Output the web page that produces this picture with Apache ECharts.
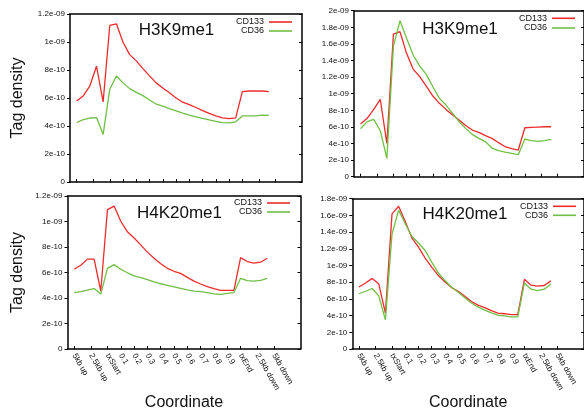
<!DOCTYPE html>
<html><head><meta charset="utf-8">
<script src="https://cdn.jsdelivr.net/npm/echarts@6/dist/echarts.min.js"></script>
<style>html,body{margin:0;padding:0;background:#fff}#c{width:584px;height:412px}</style>
</head><body><div id="c"></div>
<script>
// Bin index along the meta-gene (5 upstream bins, 20 gene-body bins, 5 downstream bins)
const BINS = [0,1,2,3,4,5,6,7,8,9,10,11,12,13,14,15,16,17,18,19,20,21,22,23,24,25,26,27,28,29];
// Tick positions (in bin units) and their labels
const TICK_VALUES = [0, 2.5, 5, 7, 9, 11, 13, 15, 17, 19, 21, 23, 25, 27.5, 30];
const TICK_LABELS = ['5kb up','2.5kb up','txStart','0.1','0.2','0.3','0.4','0.5','0.6','0.7','0.8','0.9','txEnd','2.5kb down','5kb down'];
// Values in units of 1e-10 tag density
const UNIT = 1e-10;
const H3K9_LEFT_CD133 = [5.79,6.15,6.87,8.27,5.72,11.18,11.3,9.98,9.1,8.65,8.1,7.58,7.08,6.72,6.37,6.0,5.7,5.52,5.32,5.1,4.9,4.72,4.58,4.53,4.58,6.45,6.5,6.5,6.5,6.45];
const H3K9_LEFT_CD36  = [4.25,4.45,4.57,4.6,3.4,6.62,7.57,7.08,6.67,6.4,6.17,5.86,5.57,5.42,5.24,5.08,4.92,4.78,4.66,4.54,4.43,4.33,4.24,4.22,4.3,4.72,4.72,4.73,4.77,4.76];
const H3K9_RIGHT_CD133 = [6.35,7.03,8.11,9.32,4.0,17.19,17.47,14.86,12.97,12.05,10.92,9.72,8.84,8.11,7.43,6.83,6.18,5.62,5.34,4.94,4.62,4.1,3.61,3.37,3.21,5.9,5.94,5.98,6.02,6.02];
const H3K9_RIGHT_CD36  = [5.78,6.63,6.91,5.54,2.21,15.74,18.8,16.67,14.66,13.33,12.33,10.84,9.44,8.63,7.63,6.63,5.82,5.1,4.62,4.22,3.45,3.15,2.95,2.8,2.65,4.54,4.34,4.26,4.34,4.5];
const H4K20_LEFT_CD133 = [6.26,6.57,7.05,7.05,4.55,10.93,11.21,10.02,9.19,8.71,8.17,7.6,7.12,6.69,6.33,6.1,5.93,5.62,5.33,5.1,4.9,4.74,4.6,4.6,4.6,7.17,6.86,6.74,6.81,7.12];
const H4K20_LEFT_CD36  = [4.43,4.5,4.62,4.74,4.31,6.33,6.62,6.26,5.98,5.74,5.6,5.45,5.26,5.12,5.0,4.88,4.76,4.64,4.55,4.5,4.43,4.33,4.29,4.36,4.43,5.55,5.36,5.33,5.38,5.55];
const H4K20_RIGHT_CD133 = [7.43,7.91,8.46,7.8,4.3,16.18,17.1,15.26,13.31,12.2,10.9,9.8,8.8,8.02,7.36,6.92,6.33,5.7,5.26,4.97,4.6,4.31,4.23,4.12,4.12,8.35,7.65,7.54,7.61,8.16];
const H4K20_RIGHT_CD36  = [6.62,6.92,7.25,6.36,3.49,13.79,16.62,15.0,13.5,12.7,11.8,10.4,9.1,8.2,7.4,6.8,6.14,5.52,5.04,4.67,4.34,4.05,3.98,3.86,3.86,7.91,7.17,6.99,7.17,7.8];
const TITLES = ['H3K9me1','H3K9me1','H4K20me1','H4K20me1'];
const SERIES_NAMES = ['CD133','CD36'];
const Y_MAX = [12, 20, 12, 18];
const Y_STEP = 2;

const PANEL_DATA = [
  [H3K9_LEFT_CD133, H3K9_LEFT_CD36],
  [H3K9_RIGHT_CD133, H3K9_RIGHT_CD36],
  [H4K20_LEFT_CD133, H4K20_LEFT_CD36],
  [H4K20_RIGHT_CD133, H4K20_RIGHT_CD36]
];

const FONT = '"Liberation Sans", Arial, Helvetica, sans-serif';
const COLORS = ['#ee2b2b', '#6fbf45'];
const GRIDS = [
  {left:70, top:14, width:232, height:168},
  {left:354, top:10.7, width:232, height:166},
  {left:67.5, top:196, width:233, height:167.7},
  {left:352.3, top:198.7, width:234, height:163}
];
const TITLE_POS = [[176.5,31],[460,29.5],[179.5,213.5],[465,215]];
const LEGEND_POS = [
  {right:292, y:[23,32]},
  {right:9, y:[19.3,29]},
  {right:294, y:[204,213]},
  {right:8, y:[207.3,216.3]}
];

function sci(v){
  if (Math.abs(v) < 1e-9) return '0';
  const x = v * UNIT;
  const parts = x.toExponential().split('e');
  const m = String(Number(Number(parts[0]).toFixed(2)));
  const n = parseInt(parts[1], 10);
  return m + 'e' + (n < 0 ? '-' : '+') + String(Math.abs(n)).padStart(2, '0');
}
function xLabel(v){
  for (let k = 0; k < TICK_VALUES.length; k++) {
    if (Math.abs(TICK_VALUES[k] - v) < 1e-6) return TICK_LABELS[k];
  }
  return '';
}

const axisLine = {show:true, onZero:false, lineStyle:{color:'#000', width:1.5}};
const option = {
  animation:false,
  backgroundColor:'#fff',
  grid: GRIDS.map(g => Object.assign({containLabel:false}, g)),
  title: [], legend: [], xAxis: [], yAxis: [], series: []
};

for (let p = 0; p < 4; p++) {
  const isBottom = p >= 2, isLeft = (p % 2 === 0);
  option.title.push({
    text: TITLES[p], left: TITLE_POS[p][0], top: TITLE_POS[p][1] - 9, textAlign:'center', padding:0,
    textStyle:{fontSize:17, fontWeight:'normal', color:'#111', fontFamily:FONT}
  });
  for (let s = 0; s < 2; s++) {
    option.legend.push({
      data:[SERIES_NAMES[s]], right: LEGEND_POS[p].right, top: LEGEND_POS[p].y[s] - 5.5,
      orient:'vertical', align:'right', icon:'rect', itemWidth:23, itemHeight:1.6, padding:0,
      selectedMode:false, textStyle:{fontSize:9, color:'#111', fontFamily:FONT}
    });
  }
  option.xAxis.push({
    type:'value', gridIndex:p, position:'bottom', min:-1, max:34,
    axisLine: axisLine,
    axisTick:{show:true, inside:true, length:3, customValues:TICK_VALUES, lineStyle:{color:'#000', width:1}},
    axisLabel:{show:isBottom, customValues:TICK_VALUES, formatter:xLabel, rotate:-60, fontSize:8, color:'#111', margin:5, fontFamily:FONT},
    splitLine:{show:false},
    name: isBottom ? 'Coordinate' : '', nameLocation:'middle', nameGap: isLeft ? 26 : 30,
    nameTextStyle:{fontSize:16, color:'#111', fontFamily:FONT}
  });
  option.xAxis.push({
    type:'value', gridIndex:p, position:'top', min:-1, max:34,
    axisLine: axisLine, axisTick:{show:false}, axisLabel:{show:false}, splitLine:{show:false}
  });
  option.yAxis.push({
    type:'value', gridIndex:p, position:'left', min:0, max:Y_MAX[p], interval:Y_STEP,
    axisLine: axisLine,
    axisTick:{show:true, inside:false, length:3, lineStyle:{color:'#000', width:1}},
    axisLabel:{fontSize:8, color:'#111', margin:5, formatter:sci, fontFamily:FONT},
    splitLine:{show:false},
    name: isLeft ? 'Tag density' : '', nameLocation:'middle', nameGap: p === 0 ? 44 : 41.5,
    nameTextStyle:{fontSize:16, color:'#111', fontFamily:FONT}
  });
  option.yAxis.push({
    type:'value', gridIndex:p, position:'right', min:0, max:Y_MAX[p], interval:Y_STEP,
    axisLine: axisLine,
    axisTick:{show:true, inside:true, length:3, lineStyle:{color:'#000', width:1}},
    axisLabel:{show:false}, splitLine:{show:false}
  });
  for (let s = 0; s < 2; s++) {
    option.series.push({
      type:'line', name:SERIES_NAMES[s], xAxisIndex:2*p, yAxisIndex:2*p,
      data: BINS.map((b, i) => [b, PANEL_DATA[p][s][i]]),
      showSymbol:false, symbol:'none', color:COLORS[s],
      lineStyle:{width:1.3, color:COLORS[s]}
    });
  }
}

const chart = echarts.init(document.getElementById('c'), null, {renderer:'canvas'});
chart.setOption(option);
</script></body></html>
